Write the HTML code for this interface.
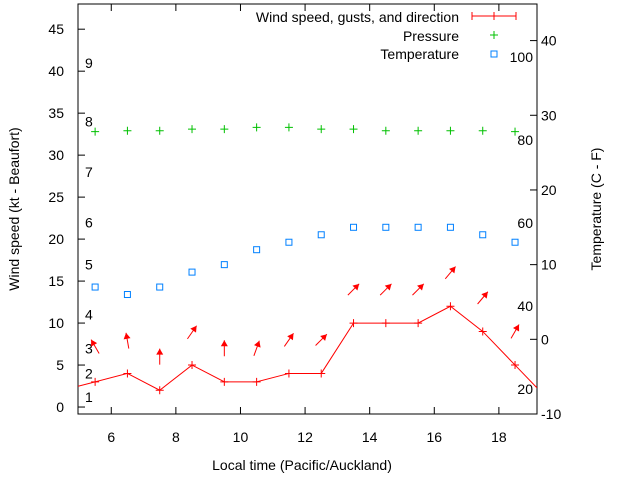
<!DOCTYPE html>
<html><head><meta charset="utf-8"><style>
body{margin:0;background:#fff;}
svg{display:block;font-family:"Liberation Sans",sans-serif;font-size:14px;}
</style></head><body>
<svg id="c" width="640" height="480" xmlns="http://www.w3.org/2000/svg"></svg>
<script>
const hours=[5.5,6.5,7.5,8.5,9.5,10.5,11.5,12.5,13.5,14.5,15.5,16.5,17.5,18.5];
const windSpeed=[3,4,2,5,3,3,4,4,10,10,10,12,9,5];
const gusts=[7.2,7.9,6,8.9,7,7,8,8,14,14,14,16,13,9];
const windDir=[-30,-10,0,35,0,20,35,45,45,45,45,40,40,30];
const pressure=[32.8,32.9,32.9,33.1,33.1,33.3,33.3,33.1,33.1,32.9,32.9,32.9,32.9,32.8];
const temperature=[7,6,7,9,10,12,13,14,15,15,15,15,14,13];
const xTicks=[6,8,10,12,14,16,18];
const yTicks=[0,5,10,15,20,25,30,35,40,45];
const y2Ticks=[-10,0,10,20,30,40];
const beaufortLabels=["1","2","3","4","5","6","7","8","9"];
const beaufortY=[1.2,4,7,11,17,22,28,34,41];
const fLabels=["20","40","60","80","100"];
const fVals=[20,40,60,80,100];

const L=78,R=537,T=4,B=414;
const xMin=4.97,xMax=19.18,yMin=-0.83,yMax=48.0,y2Min=-10,y2Max=44.9;
const X=v=>L+(v-xMin)/(xMax-xMin)*(R-L);
const Y=v=>B-(v-yMin)/(yMax-yMin)*(B-T);
const Y2=v=>B-(v-y2Min)/(y2Max-y2Min)*(B-T);
const svg=document.getElementById('c');
const NS='http://www.w3.org/2000/svg';
function mk(tag,attrs,parent){const e=document.createElementNS(NS,tag);for(const k in attrs)e.setAttribute(k,attrs[k]);(parent||svg).appendChild(e);return e;}
function txt(x,y,s,anchor,extra){const e=mk('text',Object.assign({x:x,y:y,'text-anchor':anchor||'start',fill:'#000'},extra||{}));e.textContent=s;return e;}

// axes frame
let e=mk('rect',{x:L,y:T,width:R-L,height:B-T,fill:'none',stroke:'#000','stroke-width':1});


xTicks.forEach(t=>{const x=X(t);
 e=mk('line',{x1:x,y1:B,x2:x,y2:B-7,stroke:'#000'});
 e=mk('line',{x1:x,y1:T,x2:x,y2:T+7,stroke:'#000'});
 e=txt(x,442,String(t),'middle');});
yTicks.forEach(t=>{const y=Y(t);
 e=mk('line',{x1:L,y1:y,x2:L+7,y2:y,stroke:'#000'});
 e=txt(64,y+5,String(t),'end');});
y2Ticks.forEach(t=>{const y=Y2(t);
 e=mk('line',{x1:R,y1:y,x2:R-7,y2:y,stroke:'#000'});
 e=txt(541,y+5,String(t),'start');});

beaufortLabels.forEach((s,i)=>{e=txt(85,Y(beaufortY[i])+5,s,'start');});
fLabels.forEach((s,i)=>{const c=(fVals[i]-32)*5/9;e=txt(533,Y2(c)+5,s,'end');});

// axis titles
e=txt(302,470,'Local time (Pacific/Auckland)','middle');
e=txt(0,0,'Wind speed (kt - Beaufort)','middle',{transform:'translate(19,209) rotate(-90)'});
e=txt(0,0,'Temperature (C - F)','middle',{transform:'translate(601,209) rotate(-90)'});

const clip=mk('clipPath',{id:'pc'});mk('rect',{x:L,y:T,width:R-L,height:B-T},clip);
const g=mk('g',{'clip-path':'url(#pc)'});

// wind line (extended to edges)
let pts=[[X(xMin),Y(windSpeed[0]+(windSpeed[0]-windSpeed[1])*0.53)]];
hours.forEach((h,i)=>pts.push([X(h),Y(windSpeed[i])]));
const n=hours.length;
pts.push([X(xMax),Y(windSpeed[n-1]+(windSpeed[n-1]-windSpeed[n-2])*0.68)]);
e=mk('polyline',{points:pts.map(p=>p.join(',')).join(' '),fill:'none',stroke:'#f00','stroke-width':1},g);

hours.forEach((h,i)=>{const x=X(h),y=Y(windSpeed[i]);
 e=mk('path',{d:`M${x-4},${y}h8M${x},${y-4}v8`,stroke:'#f00'},g);});

// direction arrows
hours.forEach((h,i)=>{const cx=X(h),cy=Y(gusts[i]);const a=windDir[i]*Math.PI/180;const dx=Math.sin(a),dy=-Math.cos(a);
 const len=16;const x1=cx-dx*len/2,y1=cy-dy*len/2,x2=cx+dx*len/2,y2=cy+dy*len/2;
 const px=-dy,py=dx;const hb=6,hw=3.5;
 const ag=mk('g',{},g);
 mk('line',{x1:x1,y1:y1,x2:x2,y2:y2,stroke:'#f00','stroke-width':1},ag);
 mk('polygon',{points:`${x2},${y2} ${x2-dx*hb+px*hw},${y2-dy*hb+py*hw} ${x2-dx*hb-px*hw},${y2-dy*hb-py*hw}`,fill:'#f00'},ag);});

// pressure
hours.forEach((h,i)=>{const x=X(h),y=Y(pressure[i]);
 e=mk('path',{d:`M${x-4},${y}h8M${x},${y-4}v8`,stroke:'#00c000'},g);});
// temperature
hours.forEach((h,i)=>{const x=X(h),y=Y2(temperature[i]);
 e=mk('rect',{x:x-3,y:y-3,width:6,height:6,fill:'none',stroke:'#0080ff','stroke-width':1},g);});

// legend
const lg=mk('g',{});
e=txt(459,22,'Wind speed, gusts, and direction','end');
mk('path',{d:'M472,16h44M472,12v8M494,12v8M516,12v8',stroke:'#f00'},lg);
e=txt(459,41,'Pressure','end');
mk('path',{d:'M490,35h8M494,31v8',stroke:'#00c000'},lg);
e=txt(459,59,'Temperature','end');
mk('rect',{x:491,y:51,width:6,height:6,fill:'none',stroke:'#0080ff'},lg);
</script>
</body></html>
